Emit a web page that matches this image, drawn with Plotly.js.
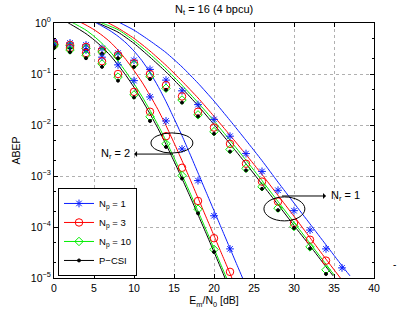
<!DOCTYPE html>
<html>
<head>
<meta charset="utf-8">
<script src="https://cdn.plot.ly/plotly-3.0.1.min.js"></script>
<style>html,body{margin:0;padding:0;background:#fff;}#chart{width:415px;height:313px;}</style>
</head>
<body>
<div id="chart"></div>
<script>
// ---- simulated points (markers) ----
const snrNr2 = [0,2,4,6,8,10,12,14,16,18,20,22];
const snrNr2Short = [0,2,4,6,8,10,12,14,16,18,20];
const simBlue2  = [0.407,0.355,0.295,0.214,0.151,0.0741,0.0355,0.0120,3.39e-3,8.13e-4,1.66e-4,3.72e-5];
const simRed2   = [0.372,0.324,0.257,0.178,0.1,0.0447,0.0182,6.03e-3,1.45e-3,3.24e-4,6.03e-5,1.32e-5];
const simGreen2 = [0.355,0.295,0.234,0.158,0.0871,0.0389,0.0145,4.27e-3,1.02e-3,2.24e-4,3.63e-5];
const simBlack2 = [0.324,0.269,0.204,0.138,0.0741,0.0347,0.0120,3.72e-3,8.91e-4,1.86e-4,3.24e-5];

const snrNr1Long = [0,2,4,6,8,10,12,14,16,18,20,22,24,26,28,30,32,34,36];
const snrNr1 = [0,2,4,6,8,10,12,14,16,18,20,22,24,26,28,30,32,34];
const simBlue1  = [0.427,0.407,0.372,0.316,0.257,0.186,0.123,0.0759,0.0468,0.0251,0.0129,6.03e-3,2.75e-3,1.23e-3,5.25e-4,2.09e-4,8.71e-5,3.72e-5,1.58e-5];
const simRed1   = [0.398,0.372,0.339,0.288,0.234,0.162,0.1,0.0603,0.0363,0.0182,8.91e-3,4.27e-3,1.74e-3,7.76e-4,3.16e-4,1.20e-4,5.62e-5,2.19e-5];
const simGreen1 = [0.380,0.355,0.316,0.269,0.219,0.151,0.0891,0.0525,0.0309,0.0158,7.41e-3,3.31e-3,1.41e-3,6.17e-4,2.34e-4,1.02e-4,4.07e-5,1.45e-5];
const simBlack1 = [0.355,0.324,0.295,0.251,0.204,0.138,0.0794,0.0490,0.0275,0.0148,6.76e-3,3.02e-3,1.29e-3,5.62e-4,2.14e-4,9.55e-5,3.80e-5,1.20e-5];

// ---- analytical bounds (lines) ----
const bndBlue2X = [4,5.3,6,7,8,9,10,11,12,13,14,15,16,17,18,19,20,21,22,23,23.6];
const bndBlue2  = [1.259,1,0.871,0.708,0.550,0.407,0.282,0.182,0.107,0.0575,0.0288,0.0135,6.17e-3,2.69e-3,1.15e-3,4.90e-4,2.09e-4,8.91e-5,3.80e-5,1.62e-5,9.77e-6];
const bndRed2X  = [2,3.5,4,5,6,7,8,9,10,11,12,13,14,15,16,17,18,19,20,21,22,22.5];
const bndRed2   = [1.318,1,0.912,0.741,0.575,0.427,0.295,0.191,0.117,0.0692,0.0380,0.0200,9.77e-3,4.47e-3,2.0e-3,8.71e-4,3.72e-4,1.58e-4,6.76e-5,2.88e-5,1.23e-5,7.94e-6];
const bndGreen2X = [1,2.4,3,4,5,6,7,8,9,10,11,12,13,14,15,16,17,18,19,20,21,21.6];
const bndGreen2  = [1.318,1,0.891,0.724,0.550,0.398,0.275,0.178,0.110,0.0646,0.0363,0.0195,0.0100,4.90e-3,2.29e-3,1.05e-3,4.68e-4,2.04e-4,8.91e-5,3.80e-5,1.62e-5,9.77e-6];
const bndBlack2X = [0.5,1.8,3,4,5,6,7,8,9,10,11,12,13,14,15,16,17,18,19,20,21,21.4];
const bndBlack2  = [1.288,1,0.776,0.617,0.468,0.339,0.234,0.151,0.0933,0.0550,0.0309,0.0166,8.51e-3,4.17e-3,1.95e-3,8.91e-4,3.98e-4,1.74e-4,7.59e-5,3.24e-5,1.38e-5,9.77e-6];

const bndBlue1X = [7,8.3,10,12,14,16,18,20,22,24,26,28,30,32,34,36,37];
const bndBlue1  = [1.259,1,0.724,0.447,0.263,0.138,0.0661,0.0295,0.0123,5.01e-3,2.0e-3,7.59e-4,2.95e-4,1.15e-4,4.47e-5,1.74e-5,1.10e-5];
const bndRed1X  = [5.5,6.8,8,10,12,14,16,18,20,22,24,26,28,30,32,34,35.8];
const bndRed1   = [1.259,1,0.794,0.501,0.282,0.148,0.0724,0.0339,0.0148,6.31e-3,2.63e-3,1.07e-3,4.17e-4,1.62e-4,6.17e-5,2.34e-5,1.0e-5];
const bndGreen1X = [4.7,6,8,10,12,14,16,18,20,22,24,26,28,30,32,34,35.1];
const bndGreen1  = [1.259,1,0.741,0.447,0.245,0.126,0.0603,0.0275,0.0120,5.01e-3,2.04e-3,8.13e-4,3.16e-4,1.23e-4,4.79e-5,1.86e-5,1.10e-5];
const bndBlack1X = [4.2,5.5,8,10,12,14,16,18,20,22,24,26,28,30,32,34,34.9];
const bndBlack1  = [1.259,1,0.661,0.398,0.214,0.110,0.0525,0.0240,0.0102,4.27e-3,1.74e-3,6.92e-4,2.75e-4,1.07e-4,4.27e-5,1.66e-5,1.10e-5];

// ---- labels ----
const legendNames = ['N<sub>p</sub> = 1','N<sub>p</sub> = 3','N<sub>p</sub> = 10','P\u2212CSI'];
const xTickVals = [0,5,10,15,20,25,30,35,40];
const yTickVals = [1,0.1,0.01,0.001,0.0001,0.00001];
const yTickText = ['10<sup>0</sup>','10<sup>\u22121</sup>','10<sup>\u22122</sup>','10<sup>\u22123</sup>','10<sup>\u22124</sup>','10<sup>\u22125</sup>'];

const BLUE = '#0a1eff', RED = '#ff0000', GREEN = '#00ee00', BLACK = '#000000';
const styles = [
  {color: BLUE,  symbol: 'asterisk-open', size: 6.5},
  {color: RED,   symbol: 'circle-open', size: 7.5},
  {color: GREEN, symbol: 'diamond-open', size: 6.5},
  {color: BLACK, symbol: 'circle', size: 3}
];

function lineTrace(x, y, s) {
  return {x: x, y: y, mode: 'lines', type: 'scatter', showlegend: false, hoverinfo: 'skip',
          line: {color: s.color, width: 1, shape: 'spline', smoothing: 0.6}};
}
function markTrace(x, y, s) {
  return {x: x, y: y, mode: 'markers', type: 'scatter', showlegend: false, hoverinfo: 'skip',
          marker: {color: s.color, symbol: s.symbol, size: s.size, line: {color: s.color, width: 1}}};
}
function legendTrace(name, s) {
  return {x: [null], y: [null], mode: 'lines+markers', type: 'scatter', name: name,
          line: {color: s.color, width: 1},
          marker: {color: s.color, symbol: s.symbol, size: s.size, line: {color: s.color, width: 1}}};
}

const data = [
  lineTrace(bndBlue1X, bndBlue1, styles[0]),
  lineTrace(bndRed1X, bndRed1, styles[1]),
  lineTrace(bndGreen1X, bndGreen1, styles[2]),
  lineTrace(bndBlack1X, bndBlack1, styles[3]),
  lineTrace(bndBlue2X, bndBlue2, styles[0]),
  lineTrace(bndRed2X, bndRed2, styles[1]),
  lineTrace(bndGreen2X, bndGreen2, styles[2]),
  lineTrace(bndBlack2X, bndBlack2, styles[3]),
  markTrace(snrNr1Long, simBlue1, styles[0]),
  markTrace(snrNr1, simRed1, styles[1]),
  markTrace(snrNr1, simGreen1, styles[2]),
  markTrace(snrNr1, simBlack1, styles[3]),
  markTrace(snrNr2, simBlue2, styles[0]),
  markTrace(snrNr2, simRed2, styles[1]),
  markTrace(snrNr2Short, simGreen2, styles[2]),
  markTrace(snrNr2Short, simBlack2, styles[3]),
  legendTrace(legendNames[0], styles[0]),
  legendTrace(legendNames[1], styles[1]),
  legendTrace(legendNames[2], styles[2]),
  legendTrace(legendNames[3], styles[3])
];

const FONT = 'Liberation Sans, Arial, Helvetica, sans-serif';
const layout = {
  width: 415, height: 313,
  margin: {l: 54, r: 41, t: 23, b: 35},
  paper_bgcolor: '#fff', plot_bgcolor: '#fff',
  font: {family: FONT, size: 10, color: '#000'},
  title: {text: 'N<sub>t</sub> = 16 (4 bpcu)', x: 0.516, xanchor: 'center', y: 0.972, yanchor: 'middle',
          font: {family: FONT, size: 11, color: '#000'}},
  xaxis: {
    range: [0, 40], tickvals: xTickVals, ticks: 'inside', ticklen: 4, tickcolor: '#000',
    showline: true, linecolor: '#000', linewidth: 1, mirror: 'allticks',
    showgrid: true, gridcolor: '#b0b0b0', griddash: 'dot', gridwidth: 1, zeroline: false,
    tickfont: {family: FONT, size: 10.5},
    title: {text: 'E<sub>m</sub>/N<sub>0</sub> [dB]', font: {family: FONT, size: 10.5}, standoff: 4}
  },
  yaxis: {
    type: 'log', range: [-5, 0], tickvals: yTickVals, ticktext: yTickText,
    ticks: 'inside', ticklen: 4, tickcolor: '#000',
    showline: true, linecolor: '#000', linewidth: 1, mirror: 'allticks',
    showgrid: true, gridcolor: '#b0b0b0', griddash: 'dot', gridwidth: 1, zeroline: false,
    minor: {ticks: 'inside', ticklen: 2, tickcolor: '#000', showgrid: false},
    tickfont: {family: FONT, size: 10.5},
    title: {text: 'ABEP', font: {family: FONT, size: 10.5}, standoff: 8}
  },
  legend: {
    x: 0.0125, y: 0.008, xanchor: 'left', yanchor: 'bottom',
    bgcolor: '#fff', bordercolor: '#000', borderwidth: 1,
    font: {family: FONT, size: 9.5}, itemwidth: 30, tracegroupgap: 0
  },
  shapes: [
    {type: 'circle', xref: 'paper', yref: 'paper', x0: 0.303, x1: 0.434, y0: 0.490, y1: 0.569,
     line: {color: '#000', width: 1}},
    {type: 'circle', xref: 'paper', yref: 'paper', x0: 0.656, x1: 0.784, y0: 0.224, y1: 0.318,
     line: {color: '#000', width: 1}}
  ],
  annotations: [
    {xref: 'paper', yref: 'paper', x: 0.372, y: 0.486, ax: -58, ay: 0,
     text: 'N<sub>r</sub> = 2', showarrow: true, arrowside: 'start',
     arrowhead: 2, arrowsize: 1.5, arrowwidth: 1, arrowcolor: '#000', startstandoff: 3,
     font: {family: FONT, size: 11}},
    {xref: 'paper', yref: 'paper', x: 0.7125, y: 0.3216, ax: 63, ay: 0,
     text: 'N<sub>r</sub> = 1', showarrow: true, arrowside: 'start',
     arrowhead: 2, arrowsize: 1.5, arrowwidth: 1, arrowcolor: '#000', startstandoff: 3,
     font: {family: FONT, size: 11}},
    {xref: 'paper', yref: 'paper', x: 1.075, y: 0.0235, text: '-', showarrow: false,
     font: {family: FONT, size: 10}}
  ]
};

Plotly.newPlot('chart', data, layout, {displayModeBar: false, staticPlot: true});
</script>
</body>
</html>
